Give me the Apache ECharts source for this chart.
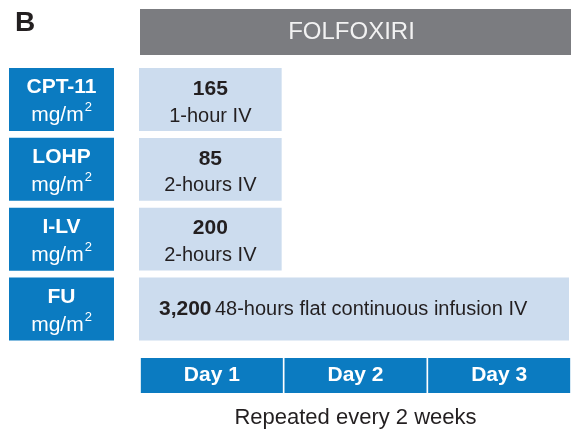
<!DOCTYPE html>
<html><head><meta charset="utf-8">
<script src="https://cdn.jsdelivr.net/npm/echarts@6/dist/echarts.min.js"></script>
<style>html,body{margin:0;padding:0;background:#fff}#c{width:571px;height:430px}</style>
</head><body><div id="c"></div>
<script>
const panelLetter = 'B';
const regimen = 'FOLFOXIRI';
const drugs = ['CPT-11', 'LOHP', 'I-LV', 'FU'];
const doseUnit = 'mg/m';
const doses = ['165', '85', '200', '3,200'];
const routes = ['1-hour IV', '2-hours IV', '2-hours IV', '48-hours flat continuous infusion IV'];
const startDay = [0, 0, 0, 0];
const endDay = [1, 1, 1, 3];
const days = ['Day 1', 'Day 2', 'Day 3'];
const cycleNote = 'Repeated every 2 weeks';

const FONT = 'Liberation Sans';
const BLUE = '#0b7bc1';
const LIGHT = '#ccdcee';
const GRAY = '#7b7c80';
const INK = '#231f20';

const chart = echarts.init(document.getElementById('c'), null, {renderer: 'canvas'});
const seriesData = drugs.map((d, i) => [i, startDay[i], endDay[i]]);

chart.setOption({
  animation: false,
  backgroundColor: '#fff',
  textStyle: {fontFamily: FONT},
  title: [
    {text: panelLetter, left: 15, top: 9, padding: 0,
     textStyle: {fontFamily: FONT, fontSize: 28, fontWeight: 'bold', color: INK}},
    {text: '{h|' + regimen + '}', left: 140, top: 9, padding: 0,
     textStyle: {fontWeight: 'normal', rich: {h: {fontFamily: FONT, fontSize: 24, fontWeight: 'normal', color: '#f2f2f2', width: 423, height: 46,
       lineHeight: 46, align: 'center', backgroundColor: GRAY, padding: [0, 8, 0, 0]}}}}
  ],
  grid: {left: 140, right: 0, top: 64.6, bottom: 86.1, containLabel: false, outerBoundsMode: 'none'},
  xAxis: [
    {type: 'value', min: 0, max: 3, interval: 1, show: false},
    {type: 'category', data: days, position: 'bottom', boundaryGap: true,
     axisLine: {show: false}, axisTick: {show: false}, splitLine: {show: false},
     axisLabel: {margin: 14, formatter: v => '{d|' + v + '}',
       rich: {d: {fontFamily: FONT, fontSize: 21, fontWeight: 'bold', color: '#fff', width: 142, height: 35,
         lineHeight: 35, align: 'center', backgroundColor: BLUE}}},
     name: cycleNote, nameLocation: 'middle', nameGap: 63,
     nameTextStyle: {fontFamily: FONT, fontSize: 22, color: INK}}
  ],
  yAxis: {type: 'category', data: drugs, inverse: true,
    axisLine: {show: false}, axisTick: {show: false}, splitLine: {show: false},
    axisLabel: {margin: 26, backgroundColor: BLUE, padding: [6, 0, 1, 0],
      formatter: v => '{a|' + v + '}\n{b|' + doseUnit + '}{s|2}',
      rich: {
        a: {fontFamily: FONT, fontSize: 21, fontWeight: 'bold', color: '#fff', align: 'center', lineHeight: 27, width: 105},
        b: {fontFamily: FONT, fontSize: 21, color: '#fff', align: 'center', lineHeight: 29},
        s: {fontFamily: FONT, fontSize: 13, color: '#fff', align: 'center', lineHeight: 29, verticalAlign: 'top', padding: [0, 0, 10, 1]}
      }}},
  series: [{
    type: 'custom',
    xAxisIndex: 0,
    encode: {x: [1, 2], y: 0},
    data: seriesData,
    renderItem: (params, api) => {
      const i = params.dataIndex;
      const cat = api.value(0);
      const p0 = api.coord([api.value(1), cat]);
      const p1 = api.coord([api.value(2), cat]);
      const h = api.size([0, 1])[1] * 0.9;
      const x0 = p0[0] - 1;
      const w = p1[0] - p0[0] - 1;
      const children = [{type: 'rect', shape: {x: x0, y: p0[1] - h / 2, width: w, height: h},
        style: {fill: LIGHT}}];
      const wide = (endDay[i] - startDay[i]) > 1;
      if (wide) {
        children.push({type: 'text', style: {x: x0 + 20, y: p0[1], align: 'left', verticalAlign: 'middle',
          text: '{d|' + doses[i] + '} {r|' + routes[i] + '}',
          rich: {d: {fontFamily: FONT, fontSize: 21, fontWeight: 'bold', fill: INK},
                 r: {fontFamily: FONT, fontSize: 20, fill: INK}}}});
      } else {
        children.push({type: 'text', style: {x: x0 + w / 2, y: p0[1] + 3, align: 'center', verticalAlign: 'middle',
          text: '{d|' + doses[i] + '}\n{r|' + routes[i] + '}',
          rich: {d: {fontFamily: FONT, fontSize: 21, fontWeight: 'bold', fill: INK, lineHeight: 27},
                 r: {fontFamily: FONT, fontSize: 20, fill: INK, lineHeight: 27}}}});
      }
      return {type: 'group', children: children};
    }
  }]
});
</script></body></html>
